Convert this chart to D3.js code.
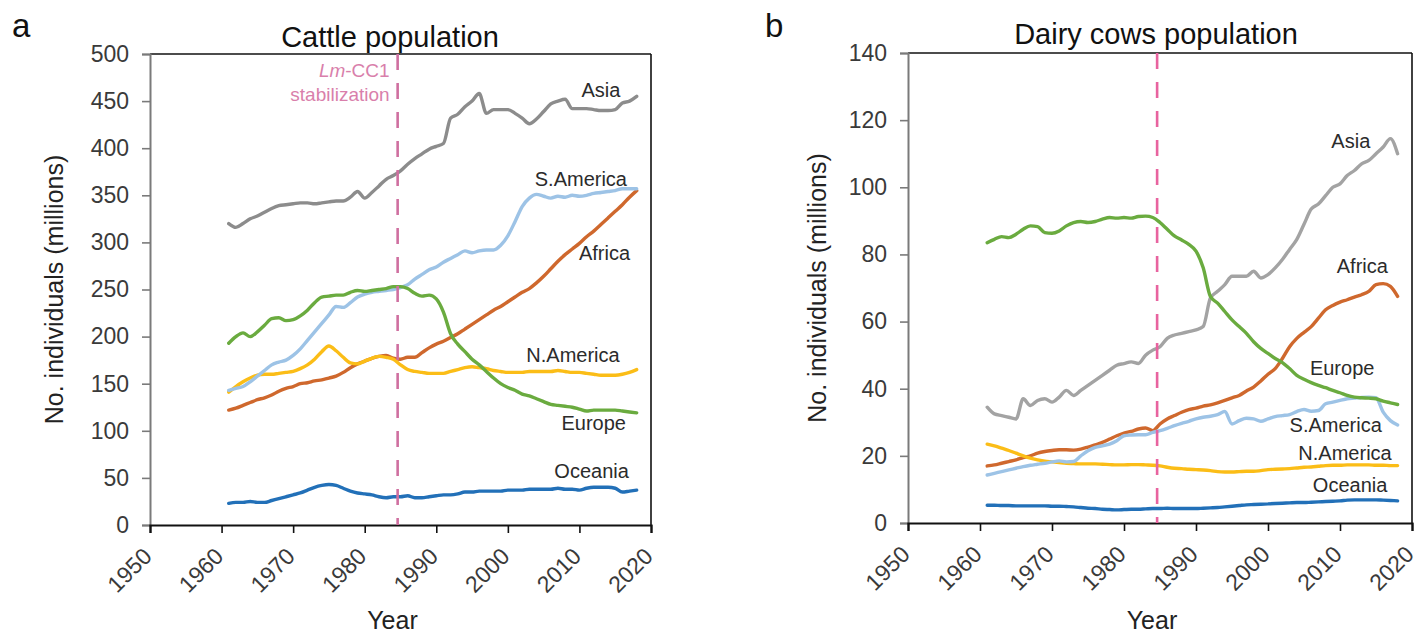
<!DOCTYPE html>
<html>
<head>
<meta charset="utf-8">
<script src="https://cdn.jsdelivr.net/npm/d3@7"></script>
<style>
  body { margin: 0; background: #fff; }
  text { font-family: "Liberation Sans", Arial, sans-serif; }
</style>
</head>
<body>
<svg id="chart" width="1418" height="637"></svg>
<script>
// years 1961..2018
const years = d3.range(1961, 2019)
const regions = ['Asia', 'S.America', 'Africa', 'N.America', 'Europe', 'Oceania']
const xTicks = [1950, 1960, 1970, 1980, 1990, 2000, 2010, 2020]
const cattleTicks = [0, 50, 100, 150, 200, 250, 300, 350, 400, 450, 500]
const dairyTicks = [0, 20, 40, 60, 80, 100, 120, 140]
const stabilizationYear = 1984.6

// cattle population (millions)
const cattleAsia = [
  320, 316, 320, 325, 328, 332, 336, 339, 340,
  341, 342, 342, 341, 342, 343, 344, 344, 348, 354,
  347, 353, 360, 367, 371, 376, 383, 389, 394, 399,
  402, 405, 432, 436, 444, 450, 458, 437, 441, 441,
  441, 437, 432, 426, 431, 439, 447, 450, 452, 442,
  442, 442, 441, 440, 440, 441, 448, 450, 455]
const cattleSAmerica = [
  143, 145, 147, 152, 158, 164, 170, 173, 175,
  180, 187, 196, 205, 214, 223, 232, 231, 236, 242,
  245, 247, 248, 249, 250, 252, 255, 261, 266, 271,
  274, 279, 283, 287, 291, 289, 291, 292, 292, 297,
  307, 322, 338, 347, 351, 349, 347, 349, 348, 350,
  349, 350, 352, 353, 354, 355, 357, 357, 357]
const cattleAfrica = [
  122, 124, 127, 130, 133, 135, 138, 142, 145,
  147, 150, 151, 153, 154, 156, 158, 162, 167, 171,
  174, 177, 179, 180, 177, 176, 178, 178, 183, 188,
  192, 195, 199, 203, 208, 213, 218, 223, 228, 232,
  237, 242, 247, 251, 257, 264, 272, 280, 287, 293,
  299, 306, 312, 319, 326, 333, 340, 348, 355]
const cattleNAmerica = [
  141, 147, 152, 156, 159, 160, 160, 161, 162,
  163, 166, 170, 176, 184, 190, 185, 178, 172, 171,
  174, 177, 179, 178, 176, 170, 165, 163, 162, 161,
  161, 161, 163, 165, 167, 168, 167, 166, 164, 163,
  162, 162, 162, 163, 163, 163, 163, 164, 163, 162,
  162, 161, 160, 159, 159, 159, 160, 162, 165]
const cattleEurope = [
  193, 200, 204, 200, 205, 212, 219, 220, 217,
  218, 222, 228, 236, 242, 243, 244, 244, 247, 249,
  248, 249, 250, 251, 253, 253, 251, 246, 243, 244,
  240, 226, 203, 192, 184, 176, 170, 163, 156, 150,
  146, 143, 139, 137, 134, 131, 128, 127, 126, 125,
  123, 121, 122, 122, 122, 122, 121, 120, 119]
const cattleOceania = [
  23, 24, 24, 25, 24, 24, 26, 28, 30,
  32, 34, 37, 40, 42, 43, 42, 39, 36, 34,
  33, 32, 30, 29, 30, 30, 31, 29, 29, 30,
  31, 32, 32, 33, 35, 35, 36, 36, 36, 36,
  37, 37, 37, 38, 38, 38, 38, 39, 38, 38,
  37, 39, 40, 40, 40, 39, 35, 36, 37]

// dairy cows population (millions)
const dairyAsia = [
  34.5, 32.5, 32, 31.5, 31, 37, 35, 36.5, 37,
  36, 37.5, 39.5, 38, 39.5, 41, 42.5, 44, 45.5, 47,
  47.5, 48, 47.5, 50, 51.5, 52.5, 55, 56, 56.5, 57,
  57.5, 58.5, 67, 69, 71, 73.5, 73.5, 73.5, 75, 73,
  74, 76, 78.5, 81.5, 84.5, 89, 93.5, 95, 97.5, 100,
  101, 103.5, 105, 107, 108, 110, 112, 114.5, 110]
const dairySAmerica = [
  14.3, 14.8, 15.3, 15.8, 16.3, 16.8, 17.2, 17.5, 17.8,
  18.2, 18.5, 18.2, 18.3, 20, 21.5, 22.5, 23, 23.5, 24.5,
  26, 26.2, 26.3, 26.3, 27, 27.5, 28.2, 29, 29.7, 30.3,
  31, 31.5, 31.8, 32.3, 33.2, 29.5, 30.5, 31.2, 31, 30.3,
  31, 31.7, 32, 32.3, 33.2, 33.8, 33.3, 33.5, 35.5, 36,
  36.5, 37, 37.2, 37.4, 37.5, 37.3, 33, 30.5, 29.2]
const dairyAfrica = [
  17, 17.3, 17.8, 18.3, 18.8, 19.5, 20, 20.8, 21.3,
  21.6, 21.8, 21.8, 21.7, 22, 22.6, 23.3, 24, 25, 26,
  26.8, 27.3, 28, 28.3, 27.5, 29.5, 31, 32, 33, 33.8,
  34.2, 34.8, 35.2, 35.8, 36.5, 37.3, 38, 39.3, 40.5, 42.3,
  44.3, 46, 49, 52.5, 55, 56.8, 58.5, 61, 63.5, 64.8,
  65.8, 66.5, 67.3, 68, 69, 71, 71.3, 70.5, 67.5]
const dairyNAmerica = [
  23.5, 23, 22.3, 21.6, 20.8, 20, 19.3, 18.8, 18.4,
  18.2, 18, 17.8, 17.7, 17.6, 17.6, 17.6, 17.5, 17.4, 17.3,
  17.3, 17.4, 17.4, 17.3, 17.2, 17, 16.6, 16.3, 16.2, 16,
  15.9, 15.8, 15.6, 15.3, 15.2, 15.2, 15.3, 15.4, 15.4, 15.6,
  15.9, 16, 16.1, 16.2, 16.4, 16.6, 16.7, 16.9, 17.1, 17.2,
  17.2, 17.3, 17.3, 17.3, 17.3, 17.2, 17.2, 17.1, 17.1]
const dairyEurope = [
  83.5, 84.5, 85.3, 85, 86, 87.5, 88.5, 88.3, 86.5,
  86.3, 87, 88.5, 89.5, 89.8, 89.5, 89.8, 90.5, 91, 90.8,
  91, 90.8, 91.3, 91.4, 91, 89.5, 87.5, 85.5, 84.3, 83,
  81, 76, 67.5, 65.5, 63, 60.5, 58.5, 56.5, 54, 52,
  50.5, 49, 47.8, 46, 44, 42.8, 41.8, 41, 40.3, 39.5,
  38.8, 38, 37.5, 37.3, 37.2, 37, 36.3, 35.8, 35.3]
const dairyOceania = [
  5.3, 5.3, 5.2, 5.2, 5.1, 5.1, 5.1, 5.1, 5.1,
  5.0, 5.0, 4.9, 4.8, 4.6, 4.4, 4.3, 4.1, 4.0, 3.9,
  4.0, 4.1, 4.1, 4.2, 4.3, 4.3, 4.4, 4.3, 4.3, 4.3,
  4.3, 4.4, 4.5, 4.6, 4.8, 5.0, 5.2, 5.4, 5.5, 5.6,
  5.7, 5.8, 5.9, 6.0, 6.1, 6.1, 6.2, 6.3, 6.4, 6.5,
  6.6, 6.8, 6.9, 6.9, 6.9, 6.9, 6.8, 6.7, 6.6]

// where each region name sits, in data units [year, value]
const cattleLabelAt = [[2013.0, 454], [2010.2, 360], [2013.5, 281], [2009.1, 173], [2012.0, 101], [2011.7, 50]]
const dairyLabelAt = [[2011.5, 111.7], [2009.4, 27.1], [2013.1, 74.5], [2010.7, 18.8], [2010.3, 44.1], [2011.4, 9.2]]

const colors = {
  'Asia': '#8f8f8f',
  'S.America': '#9dc3e6',
  'Africa': '#cf682d',
  'N.America': '#fbbd17',
  'Europe': '#6aab3f',
  'Oceania': '#2270b8'
}
const drawOrder = ['Asia', 'Africa', 'N.America', 'S.America', 'Europe', 'Oceania']

const svg = d3.select('#chart')

function drawPanel (cfg) {
  const x = d3.scaleLinear().domain([1950, 2020]).range([cfg.left, cfg.right])
  const y = d3.scaleLinear().domain([0, cfg.yMax]).range([cfg.bottom, cfg.top])
  const g = svg.append('g')

  // frame top / right
  g.append('line').attr('x1', cfg.left).attr('x2', cfg.right).attr('y1', cfg.top).attr('y2', cfg.top)
    .attr('stroke', '#111').attr('stroke-width', 1.6)
  g.append('line').attr('x1', cfg.right).attr('x2', cfg.right).attr('y1', cfg.top).attr('y2', cfg.bottom)
    .attr('stroke', '#111').attr('stroke-width', 1.6)

  // y axis (grey)
  const yAxis = g.append('g').attr('transform', `translate(${cfg.left},0)`)
    .call(d3.axisLeft(y).tickValues(cfg.yTicks).tickSize(8).tickPadding(13).tickFormat(d3.format('d')))
  yAxis.select('.domain').attr('stroke', '#7a7a7a').attr('stroke-width', 2)
  yAxis.selectAll('.tick line').attr('stroke', '#7a7a7a').attr('stroke-width', 1.6)
  yAxis.selectAll('text').attr('font-size', 23).attr('fill', '#3a3a3a')
    .attr('font-family', '"Liberation Sans", Arial, sans-serif')

  // x axis (black), rotated labels
  const xAxis = g.append('g').attr('transform', `translate(0,${cfg.bottom})`)
    .call(d3.axisBottom(x).tickValues(xTicks).tickSize(8).tickFormat(d3.format('d')))
  xAxis.select('.domain').attr('stroke', '#111').attr('stroke-width', 2.2)
  xAxis.selectAll('.tick line').attr('stroke', '#111').attr('stroke-width', 1.6)
  xAxis.selectAll('text')
    .attr('font-size', 23).attr('fill', '#3a3a3a')
    .attr('font-family', '"Liberation Sans", Arial, sans-serif')
    .attr('x', 0).attr('y', 0).attr('dy', '0.35em')
    .attr('text-anchor', 'end')
    .attr('transform', 'translate(-3,27) rotate(-45)')

  // series lines
  const line = d3.line().x((d, i) => x(years[i])).y(d => y(d)).curve(d3.curveMonotoneX)
  drawOrder.forEach(r => {
    g.append('path').datum(cfg.series[r])
      .attr('d', line)
      .attr('fill', 'none')
      .attr('stroke', r === 'Asia' ? cfg.asiaColor : colors[r])
      .attr('stroke-width', 3.4)
      .attr('stroke-linejoin', 'round')
      .attr('stroke-linecap', 'round')
  })

  // stabilization marker
  g.append('line')
    .attr('x1', x(stabilizationYear)).attr('x2', x(stabilizationYear))
    .attr('y1', cfg.top).attr('y2', cfg.bottom)
    .attr('stroke', cfg.dashColor).attr('stroke-width', 2.6)
    .attr('stroke-dasharray', '16,13')

  // region labels
  regions.forEach((r, i) => {
    const [lx, ly] = cfg.labelAt[i]
    g.append('text').attr('x', x(lx)).attr('y', y(ly))
      .attr('text-anchor', 'middle').attr('font-size', 20).attr('fill', '#2b2b2b')
      .text(r)
  })

  // titles
  g.append('text').attr('x', cfg.titleX).attr('y', cfg.titleY)
    .attr('text-anchor', 'middle').attr('font-size', 29).attr('fill', '#111').text(cfg.title)
  g.append('text').attr('x', cfg.letterX).attr('y', 37)
    .attr('font-size', 33).attr('fill', '#111').text(cfg.letter)
  g.append('text').attr('x', (cfg.left + cfg.right) / 2 - 8).attr('y', 629)
    .attr('text-anchor', 'middle').attr('font-size', 25).attr('fill', '#222').text('Year')
  g.append('text')
    .attr('transform', `translate(${cfg.yTitleX},${(cfg.top + cfg.bottom) / 2}) rotate(-90)`)
    .attr('text-anchor', 'middle').attr('font-size', 25).attr('fill', '#222')
    .text('No. individuals (millions)')

  return { x, y, g }
}

const pa = drawPanel({
  left: 150, right: 651, top: 54, bottom: 525, yMax: 500, yTicks: cattleTicks,
  series: {
    'Asia': cattleAsia, 'S.America': cattleSAmerica, 'Africa': cattleAfrica,
    'N.America': cattleNAmerica, 'Europe': cattleEurope, 'Oceania': cattleOceania
  },
  labelAt: cattleLabelAt,
  asiaColor: '#8c8c8c', dashColor: '#cf6fa0',
  title: 'Cattle population', titleX: 390, titleY: 47,
  letter: 'a', letterX: 12, yTitleX: 63
})

// Lm-CC1 annotation (panel a)
const ann = pa.g.append('text').attr('text-anchor', 'end').attr('font-size', 19).attr('fill', '#d97fab')
ann.append('tspan').attr('x', pa.x(stabilizationYear) - 8).attr('y', 77)
  .attr('font-style', 'italic').text('Lm')
ann.append('tspan').text('-CC1')
pa.g.append('text').attr('x', pa.x(stabilizationYear) - 8).attr('y', 101)
  .attr('text-anchor', 'end').attr('font-size', 19).attr('fill', '#d97fab').text('stabilization')

drawPanel({
  left: 908, right: 1412, top: 53, bottom: 523, yMax: 140, yTicks: dairyTicks,
  series: {
    'Asia': dairyAsia, 'S.America': dairySAmerica, 'Africa': dairyAfrica,
    'N.America': dairyNAmerica, 'Europe': dairyEurope, 'Oceania': dairyOceania
  },
  labelAt: dairyLabelAt,
  asiaColor: '#a3a3a3', dashColor: '#e8639f',
  title: 'Dairy cows population', titleX: 1156, titleY: 44,
  letter: 'b', letterX: 765, yTitleX: 826
})
</script>
</body>
</html>
